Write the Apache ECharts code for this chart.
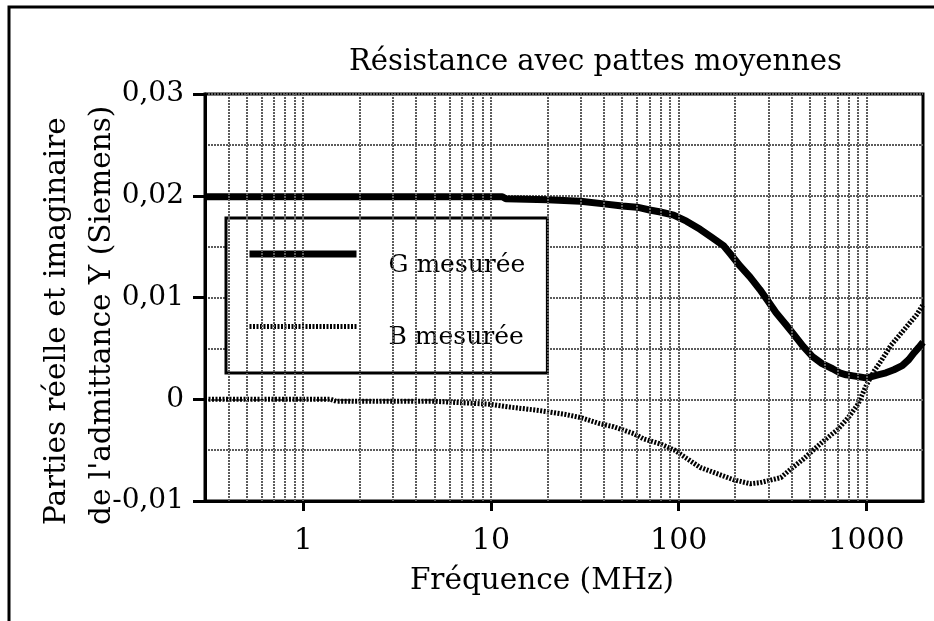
<!DOCTYPE html>
<html>
<head>
<meta charset="utf-8">
<style>
  html, body { margin: 0; padding: 0; background: #fff; }
  #chart { width: 934px; height: 621px; }
</style>
<script src="https://cdn.jsdelivr.net/npm/echarts@6/dist/echarts.min.js"></script>
</head>
<body>
<div id="chart"></div>
<script>
// G mesurée (partie réelle), fréquence en MHz
const freqG = [0.3, 0.5, 1, 2, 5, 10, 11.5, 12, 20, 30, 40, 50, 60, 70, 80, 94, 110, 130, 150, 173, 190, 212, 240, 270, 300, 330, 370, 405, 460, 515, 580, 660, 720, 780, 850, 920, 990, 1050, 1150, 1270, 1400, 1550, 1680, 1800, 1900, 2000]
const valG = [0.0199, 0.0199, 0.0199, 0.0199, 0.0199, 0.0199, 0.0199, 0.0197, 0.0196, 0.01945, 0.0192, 0.019, 0.01888, 0.0186, 0.0184, 0.0181, 0.0175, 0.0167, 0.0159, 0.0151, 0.0142, 0.0131, 0.012, 0.0108, 0.0096, 0.0085, 0.0074, 0.0065, 0.0052, 0.0042, 0.0035, 0.003, 0.0026, 0.0024, 0.0023, 0.0022, 0.0021, 0.0022, 0.0024, 0.0026, 0.0029, 0.0033, 0.0039, 0.0046, 0.0051, 0.0056]

// B mesurée (partie imaginaire)
const freqB = [0.3, 0.5, 1, 1.4, 1.5, 3, 5, 8, 10, 13, 18, 25, 30, 38, 45, 58, 65, 80, 95, 110, 130, 165, 195, 240, 270, 300, 350, 405, 460, 520, 600, 700, 800, 900, 1000, 1100, 1200, 1350, 1500, 1700, 1850, 2000]
const valB = [0, 0, 0, 0, -0.0002, -0.0002, -0.0002, -0.0004, -0.0005, -0.0008, -0.0011, -0.0015, -0.0018, -0.0024, -0.0027, -0.0034, -0.0039, -0.0044, -0.005, -0.0058, -0.0067, -0.0074, -0.0079, -0.0083, -0.0082, -0.008, -0.0077, -0.0067, -0.0059, -0.005, -0.004, -0.003, -0.0018, -0.0005, 0.0014, 0.0028, 0.0038, 0.0053, 0.0063, 0.0075, 0.0083, 0.0093]

const xTickLabels = ['1', '10', '100', '1000']
const yTickLabels = ['-0,01', '0', '0,01', '0,02', '0,03']
const seriesNames = ['G mesurée', 'B mesurée']
const titleText = 'Résistance avec pattes moyennes'
const xTitle = 'Fréquence (MHz)'
const yTitleLines = ['Parties réelle et imaginaire', "de l'admittance Y (Siemens)"]

// lignes verticales de la grille : 1..9 par décade
const gridFreqs = []
for (let d = 0.1; d <= 1000; d *= 10) {
  for (let k = 1; k <= 9; k++) {
    const f = +(k * d).toPrecision(3)
    if (f > 0.3 && f < 2000) gridFreqs.push(f)
  }
}

const serif = 'DejaVu Serif'
const gridLine = { color: '#5c5c5c', width: 2, type: [2, 1] }

const chart = echarts.init(document.getElementById('chart'))
chart.setOption({
  animation: false,
  backgroundColor: '#fff',
  title: {
    text: titleText,
    left: 349,
    top: 48,
    padding: 0,
    textStyle: { fontFamily: serif, fontSize: 29, fontWeight: 'normal', color: '#000' }
  },
  grid: {
    left: 205,
    right: 11,
    top: 94,
    bottom: 120,
    show: true,
    borderColor: '#000',
    borderWidth: 3
  },
  legend: {
    data: [
      { name: seriesNames[0], lineStyle: { width: 7 } },
      { name: seriesNames[1], lineStyle: { width: 5 } }
    ],
    orient: 'vertical',
    left: 226,
    top: 218,
    padding: [28, 22, 23, 20],
    itemWidth: 107,
    itemHeight: 20,
    itemGap: 41,
    backgroundColor: '#fff',
    borderColor: '#000',
    borderWidth: 3,
    borderRadius: 0,
    itemStyle: { color: 'transparent', borderWidth: 0, opacity: 0 },
    formatter: name => '{t|' + name + '}',
    textStyle: {
      color: '#000',
      rich: {
        t: { fontFamily: serif, fontSize: 25, color: '#000', padding: [22, 0, 0, 27] }
      }
    }
  },
  xAxis: {
    type: 'log',
    logBase: 10,
    min: 0.3,
    max: 2000,
    name: xTitle,
    nameLocation: 'middle',
    nameGap: 65,
    nameTextStyle: { fontFamily: serif, fontSize: 29.5, color: '#000', padding: [0, 44, 0, 0] },
    axisLine: { show: true, onZero: false, lineStyle: { color: '#000', width: 3 } },
    axisTick: { show: true, inside: false, length: 10, lineStyle: { color: '#000', width: 3 } },
    axisLabel: {
      fontFamily: serif,
      fontSize: 30,
      color: '#000',
      margin: 25,
      showMinLabel: false,
      showMaxLabel: false,
      formatter: v => {
        const i = Math.round(Math.log10(v))
        return Math.abs(Math.log10(v) - i) < 1e-6 && i >= 0 ? xTickLabels[i] : ''
      }
    },
    splitLine: { show: false }
  },
  yAxis: {
    type: 'value',
    min: -0.01,
    max: 0.03,
    interval: 0.01,
    axisLine: { show: true, lineStyle: { color: '#000', width: 3 } },
    axisTick: { show: true, inside: false, length: 12, lineStyle: { color: '#000', width: 3 } },
    axisLabel: {
      fontFamily: serif,
      fontSize: 28,
      color: '#000',
      margin: 21,
      formatter: v => yTickLabels[Math.round(v * 100) + 1]
    },
    splitLine: { show: true, lineStyle: gridLine },
    minorTick: { show: false, splitNumber: 2 },
    minorSplitLine: { show: true, lineStyle: gridLine }
  },
  graphic: [
    {
      type: 'rect',
      silent: true,
      z: -10,
      shape: { x: 9, y: 7, width: 960, height: 660 },
      style: { fill: 'none', stroke: '#000', lineWidth: 3 }
    },
    {
      type: 'text',
      silent: true,
      x: 80,
      y: 525,
      rotation: Math.PI / 2,
      style: {
        text: yTitleLines.join('\n'),
        font: '29.5px "DejaVu Serif"',
        fill: '#000',
        align: 'left',
        verticalAlign: 'middle',
        lineHeight: 45
      }
    }
  ],
  series: [
    {
      name: 'grille',
      type: 'line',
      data: [],
      silent: true,
      z: 1,
      markLine: {
        silent: true,
        symbol: 'none',
        label: { show: false },
        lineStyle: gridLine,
        data: gridFreqs.map(f => ({ xAxis: f }))
      }
    },
    {
      name: seriesNames[0],
      type: 'line',
      z: 3,
      showSymbol: false,
      symbol: 'none',
      data: freqG.map((f, i) => [f, valG[i]]),
      lineStyle: { color: '#000', width: 7 },
      itemStyle: { color: '#000' }
    },
    {
      name: seriesNames[1],
      type: 'line',
      z: 3,
      showSymbol: false,
      symbol: 'none',
      data: freqB.map((f, i) => [f, valB[i]]),
      lineStyle: { color: '#000', width: 5, type: [2, 1.5] },
      itemStyle: { color: '#000' }
    }
  ]
})
</script>
</body>
</html>
